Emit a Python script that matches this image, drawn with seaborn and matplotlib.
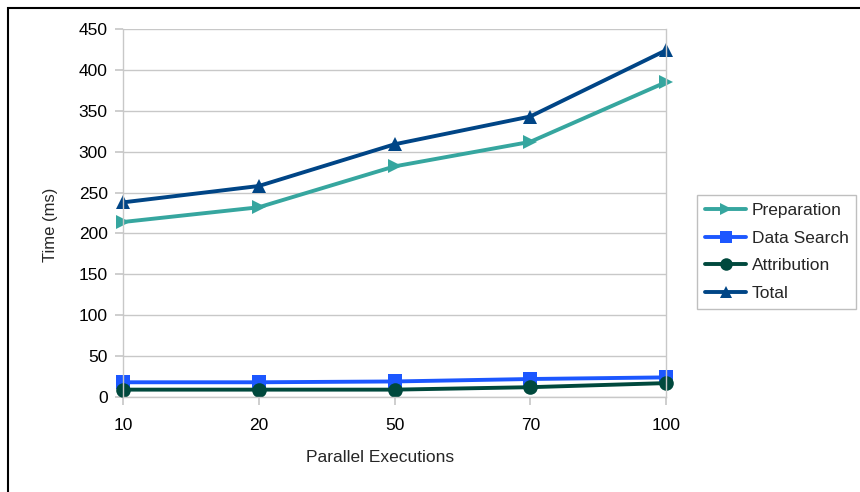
import matplotlib
matplotlib.use("Agg")
import matplotlib.pyplot as plt
import pandas as pd
import seaborn as sns

# parallel executions (categorical x axis)
executions = ["10", "20", "50", "70", "100"]

preparation = [214, 232, 282, 312, 385]
data_search = [18, 18, 19, 22, 24]
attribution = [9, 9, 9, 12, 17]
total = [238, 258, 309, 343, 424]

series_names = ["Preparation", "Data Search", "Attribution", "Total"]
series_values = [preparation, data_search, attribution, total]

palette = {"Preparation": "#36a69f", "Data Search": "#1c57ff",
           "Attribution": "#00493d", "Total": "#004586"}
markers = {"Preparation": ">", "Data Search": "s",
           "Attribution": "o", "Total": "^"}

rows = []
for name, vals in zip(series_names, series_values):
    for x, v in zip(executions, vals):
        rows.append({"Parallel Executions": x, "Time (ms)": v, "Serie": name})
df = pd.DataFrame(rows)

sns.set_theme(style="white")
plt.rcParams["font.family"] = ["Liberation Sans", "DejaVu Sans"]
FS = 12.5

fig = plt.figure(figsize=(8.6, 4.92), dpi=100)
ax = fig.add_axes([123 / 860, 1 - 397 / 492, (666 - 123) / 860, (397 - 29) / 492])

sns.lineplot(data=df, x="Parallel Executions", y="Time (ms)", hue="Serie",
             style="Serie", markers=markers, dashes=False, palette=palette,
             linewidth=2.8, markersize=10.5, markeredgewidth=0, ax=ax,
             sort=False, legend=True)
for ln in ax.lines:
    ln.set_clip_on(False)

ax.set_ylim(0, 450)
ax.set_yticks(range(0, 451, 50))
ax.set_xlim(0, len(executions) - 1)
ax.grid(axis="y", color="#c8c8c8", linewidth=1)
ax.set_axisbelow(True)
ax.spines["top"].set_visible(False)
for side in ["left", "bottom", "right"]:
    ax.spines[side].set_color("#c8c8c8")
    ax.spines[side].set_linewidth(1)
ax.tick_params(axis="both", which="both", length=6, color="#c8c8c8",
               labelsize=FS, labelcolor="#000000", direction="out",
               left=True, bottom=True)
ax.tick_params(axis="x", pad=9)
ax.tick_params(axis="y", pad=5)
ax.set_xlabel("Parallel Executions", fontsize=FS)
ax.set_ylabel("Time (ms)", fontsize=12)
ax.xaxis.set_label_coords(0.473, -0.145)
ax.yaxis.set_label_coords(-0.12, 0.467)

leg = ax.legend(title=None, loc="upper left", bbox_to_anchor=(697 / 860, 1 - 195 / 492),
                bbox_transform=fig.transFigure, frameon=True, fancybox=False,
                fontsize=FS, handlelength=2.4, borderpad=0.45, labelspacing=0.72,
                handletextpad=0.3, borderaxespad=0)
leg.get_frame().set_edgecolor("#b0b0b0")
leg.get_frame().set_linewidth(1)
for h in leg.legend_handles:
    h.set_linewidth(2.8)
    h.set_markersize(9)

# outer frame around the whole chart (right and bottom edges fall outside the image)
fig.patches.append(plt.Rectangle((8 / 860, -0.1), 1.0, 1.1 - 8 / 492,
                                 transform=fig.transFigure, fill=False,
                                 edgecolor="black", linewidth=1.5))

fig.savefig("out.png", dpi=100)
